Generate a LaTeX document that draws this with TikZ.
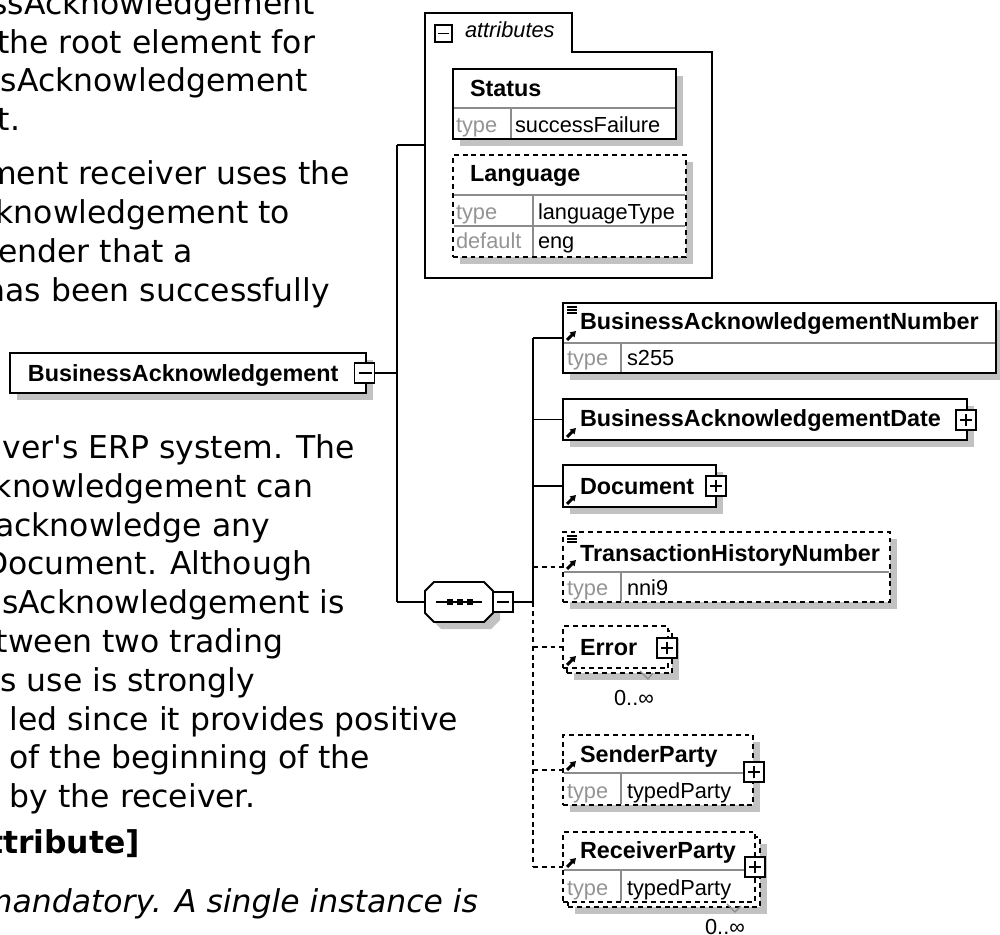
\documentclass[tikz,border=0pt]{standalone}
\usepackage{fontspec}
\setmainfont{DejaVu Sans}
\newfontfamily\xsdfont{Liberation Sans}
\usetikzlibrary{shadows,arrows.meta}
\newlength{\pu}
\setlength{\pu}{0.02cm}
\definecolor{shadegray}{gray}{0.76}
\definecolor{rulegray}{gray}{0.55}
\definecolor{labelgray}{gray}{0.58}
\tikzset{
  every node/.style={inner sep=0pt, outer sep=0pt},
  bodytext/.style={font=\fontsize{17.9}{21}\selectfont, anchor=base east},
  elname/.style={font=\xsdfont\bfseries\fontsize{13.3}{16}\selectfont, anchor=base west},
  elval/.style={font=\xsdfont\fontsize{12.4}{15}\selectfont, anchor=base west},
  eltype/.style={elval, text=labelgray},
  boxshadow/.style={drop shadow={shadow xshift=7\pu, shadow yshift=-7\pu, fill=shadegray, opacity=1}},
  elem/.style 2 args={draw, fill=white, line width=1.1pt, anchor=north west, minimum width=#1\pu, minimum height=#2\pu},
  optdash/.style={dash pattern=on 2.8pt off 2.2pt},
  link/.style={line width=1.1pt},
  optlink/.style={link, optdash},
  toggle/.style={draw, fill=white, line width=1pt, minimum width=20\pu, minimum height=20\pu},
  glyph/.style={line width=1pt},
  rowline/.style={draw=rulegray, line width=0.8pt},
  refarrow/.style={line width=1.7pt, -{Triangle[length=3.2pt, width=3.8pt]}},
  multtick/.style={draw=rulegray, line width=0.7pt},
}
\begin{document}
\begin{tikzpicture}[x=0.02cm, y=-0.02cm]
\useasboundingbox (0,0) rectangle (1000,935);
\clip (0,0) rectangle (1000,935);

% description text, cut at the left edge
\foreach \y/\x/\t [count=\i] in {15/315/ssAcknowledgement, 53.5/315/the root element for,
    92/308/sAcknowledgement, 130.5/20/t., 185/350/ment receiver uses the,
    224/290/knowledgement to, 263/193/ender that a, 302/330/has been successfully,
    458.5/355/ver\textquotesingle s ERP system. The, 497.3/313/knowledgement can,
    536.1/270/acknowledge any, 574.9/312/Document. Although,
    613.7/345/sAcknowledgement is, 652.5/283/tween two trading,
    691.3/255/s use is strongly, 730.1/458/led since it provides positive,
    768.9/370/of the beginning of the, 807.7/255/by the receiver.}
  \node[bodytext] (line\i) at (\x,\y) {\t};
\node[bodytext, font=\bfseries\fontsize{17.9}{21}\selectfont] (attrhead) at (140,853) {ttribute]};
\node[bodytext, font=\itshape\fontsize{17.9}{21}\selectfont] (attrnote) at (478,912) {mandatory. A single instance is};

% root element
\node[elem={356}{40}, boxshadow] (root) at (10,353) {};
\node[elname] (rootname) at (28,382) {BusinessAcknowledgement};
\node[toggle] (rootminus) at (364.5,373) {};
\draw[glyph] (rootminus.west) ++(4,0) -- ++(13,0);

\coordinate (attrjoin) at (397,145);
\coordinate (seqjoin) at (397,602);
\coordinate (attrin) at (425,145);
\coordinate (seqin) at (425,602);
\draw[link] (rootminus.east) -- (rootminus.east -| attrjoin);
\draw[link] (attrjoin) -- (seqjoin);
\draw[link] (attrjoin) -- (attrin);
\draw[link] (seqjoin) -- (seqin);

% attributes
\draw[line width=1.1pt, fill=white] (425,13) -- (572,13) -- (572,52) -- (712,52) -- (712,278) -- (425,278) -- cycle;
\node[toggle, minimum width=17\pu, minimum height=17\pu] (attrminus) at (443.5,33.5) {};
\draw[glyph] (attrminus.west) ++(3,0) -- ++(11,0);
\node[elval, font=\xsdfont\itshape\fontsize{12.4}{15}\selectfont] (attrlabel) at (465,38) {attributes};

\node[elem={223}{70}, boxshadow] (status) at (453,69) {};
\draw[rowline] (454,108) -- (675,108) (511,108) -- (511,138);
\node[elname] (statusname) at (470,97) {Status};
\node[eltype] (statustype) at (456,133) {type};
\node[elval] (statusval) at (515,133) {successFailure};

\node[elem={233}{102}, optdash, boxshadow] (language) at (453,155) {};
\draw[rowline] (454,195) -- (685,195) (454,226) -- (685,226) (533,195) -- (533,256);
\node[elname] (languagename) at (470,182) {Language};
\node[eltype] (languagetype) at (456,220) {type};
\node[elval] (languageval) at (538,220) {languageType};
\node[eltype] (languagedeftype) at (456,249) {default};
\node[elval] (languagedef) at (538,249) {eng};

% sequence
\fill[shadegray, shift={(7,7)}] (434,582) -- (484,582) -- (493,591) -- (493,613) -- (484,622) -- (434,622) -- (425,613) -- (425,591) -- cycle;
\draw[line width=1.1pt, fill=white] (434,582) -- (484,582) -- (493,591) -- (493,613) -- (484,622) -- (434,622) -- (425,613) -- (425,591) -- cycle;
\draw[line width=1pt] (436,602) -- (482,602);
\foreach \x in {450,460,470}
  \fill (\x-3,599) rectangle (\x+3,605);
\node[toggle] (seqminus) at (503,602) {};
\draw[glyph] (seqminus.west) ++(4,0) -- ++(12,0);

\coordinate (trunktop) at (533,338);
\coordinate (trunkmid) at (533,602);
\coordinate (trunkend) at (533,867);
\draw[link] (seqminus.east) -- (trunkmid);
\draw[link] (trunktop) -- (trunkmid);
\draw[optlink] (trunkmid) -- (trunkend);

% children
\node[elem={433}{70}, boxshadow] (bnumber) at (563,303) {};
\draw[rowline] (564,343) -- (995,343) (621,343) -- (621,372);
\node[elname] (bnumbername) at (580,330) {BusinessAcknowledgementNumber};
\node[eltype] (bnumbertype) at (567,366) {type};
\node[elval] (bnumberval) at (627,366) {s255};

\node[elem={404}{41}, boxshadow] (bdate) at (563,399) {};
\node[elname] (bdatename) at (580,427) {BusinessAcknowledgementDate};

\node[elem={153}{42}, boxshadow] (bdoc) at (563,465) {};
\node[elname] (bdocname) at (580,494) {Document};

\node[elem={327}{70}, optdash, boxshadow] (bthn) at (563,532) {};
\draw[rowline] (564,572) -- (889,572) (621,572) -- (621,601);
\node[elname] (bthnname) at (580,561) {TransactionHistoryNumber};
\node[eltype] (bthntype) at (567,595) {type};
\node[elval] (bthnval) at (627,595) {nni9};

\node[elem={105}{42}, optdash, boxshadow] (berrorback) at (567,631) {};
\node[elem={105}{42}, optdash] (berror) at (563,626) {};
\node[elname] (berrorname) at (580,655) {Error};
\node[elval, anchor=base] (berrormult) at (634,705) {0..∞};
\draw[multtick] (640,671) -- (648,679) -- (653,673);

\node[elem={190}{70}, optdash, boxshadow] (bsender) at (563,735) {};
\draw[rowline] (564,773) -- (752,773) (621,773) -- (621,804);
\node[elname] (bsendername) at (580,762) {SenderParty};
\node[eltype] (bsendertype) at (567,798) {type};
\node[elval] (bsenderval) at (627,798) {typedParty};

\node[elem={192}{70}, optdash, boxshadow] (breceiverback) at (568,837) {};
\node[elem={192}{70}, optdash] (breceiver) at (563,832) {};
\draw[rowline] (564,870) -- (754,870) (621,870) -- (621,901);
\node[elname] (breceivername) at (580,858) {ReceiverParty};
\node[eltype] (breceivertype) at (567,895) {type};
\node[elval] (breceiverval) at (627,895) {typedParty};
\node[elval, anchor=base] (breceivermult) at (725,934) {0..∞};
\draw[multtick] (727,904) -- (735,912) -- (741,906);

% connectors to the children
\draw[link] (trunktop) -- (bnumber.west |- trunktop);
\draw[link] (bdate.west -| trunktop) -- (bdate.west);
\draw[link] (bdoc.west -| trunktop) -- (bdoc.west);
\foreach \n in {bthn, berror, bsender, breceiver}
  \draw[optlink] (\n.west -| trunktop) -- (\n.west);

% plus toggles
\foreach \n/\x/\y in {bdatep/966/420, bdocp/716/486, berrorp/667/648, bsenderp/754/772, breceiverp/755/867} {
  \node[toggle] (\n) at (\x,\y) {};
  \draw[glyph] (\n.west) ++(4,0) -- ++(12,0) (\n.south) ++(0,-4) -- ++(0,-12);
}

% icons
\foreach \rb in {343,440,507,572,668,773,870}
  \draw[refarrow] (567,\rb-3) -- (576,\rb-12);
\foreach \t in {303,532}
  \foreach \d in {4,7,10}
    \draw[line width=0.7pt] (567,\t+\d) -- (577,\t+\d);
\end{tikzpicture}
\end{document}
